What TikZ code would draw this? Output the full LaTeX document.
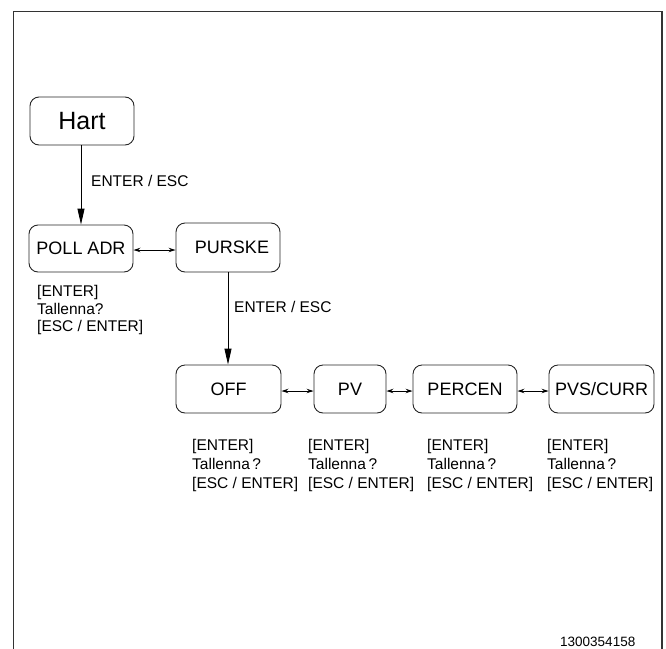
\documentclass[tikz,border=0pt]{standalone}
\usepackage{fontspec}
\setmainfont{Liberation Sans}
\usetikzlibrary{arrows.meta}
\begin{document}
\begin{tikzpicture}[x=1pt,y=-1pt,
  box/.style={draw=black!85, line width=0.9pt, rounded corners=9pt, inner sep=0pt,
    font=\fontsize{18}{20}\selectfont},
  lbl/.style={font=\fontsize{15.5}{17}\selectfont, inner sep=0pt, anchor=base west},
  num/.style={font=\fontsize{13.5}{15}\selectfont, inner sep=0pt, anchor=base west},
  arr/.style={line width=0.9pt, -{Triangle[length=16pt,width=7pt]}},
  darr/.style={line width=1pt, {Stealth[length=7pt,width=4.5pt]}-{Stealth[length=7pt,width=4.5pt]}}
]
\useasboundingbox (0,0) rectangle (666,648);
\draw[line width=1.6pt, black!80] (13.5,652) -- (13.5,11.5) -- (662,11.5) -- (662,652);

\node[box, minimum width=104pt, minimum height=48pt, font=\fontsize{25}{27}\selectfont] (hart) at (82,121) {Hart};
\node[box, minimum width=104pt, minimum height=47pt] (poll) at (81,248.5) {POLL ADR};
\node[box, minimum width=104pt, minimum height=49pt] (pur) at (228,247.5) {\hspace{8pt}PURSKE};
\node[box, minimum width=105pt, minimum height=48pt] (off) at (228.5,389) {OFF};
\node[box, minimum width=72pt, minimum height=48pt] (pv) at (350,389) {PV};
\node[box, minimum width=104pt, minimum height=48pt] (perc) at (465,389) {PERCEN};
\node[box, minimum width=105pt, minimum height=48pt] (pvs) at (601.5,389) {PVS/CURR};

\draw[arr] (hart.south -| 81,0) -- (poll.north -| 81,0);
\draw[arr] (pur.south) -- (off.north -| pur.south);
\draw[darr] (poll.east |- 0,250) -- (pur.west |- 0,250);
\draw[darr] (off.east |- 0,391) -- (pv.west |- 0,391);
\draw[darr] (pv.east |- 0,391) -- (perc.west |- 0,391);
\draw[darr] (perc.east |- 0,391) -- (pvs.west |- 0,391);

\node[lbl] (l1) at (91,186) {ENTER / ESC};
\node[lbl] (l2) at (234,312) {ENTER / ESC};

\node[lbl] (p1) at (37,296.5) {[ENTER]};
\node[lbl] (p2) at (37,314) {Tallenna?};
\node[lbl] (p3) at (37,331.5) {[ESC / ENTER]};

\foreach \x/\n in {192/a,308/b,427/c,547/d}{
  \node[lbl] (\n1) at (\x,450) {[ENTER]};
  \node[lbl] (\n2) at (\x,469) {Tallenna\,?};
  \node[lbl] (\n3) at (\x,488) {[ESC / ENTER]};
}

\node[num] (id) at (560,646) {1300354158};
\end{tikzpicture}
\end{document}
